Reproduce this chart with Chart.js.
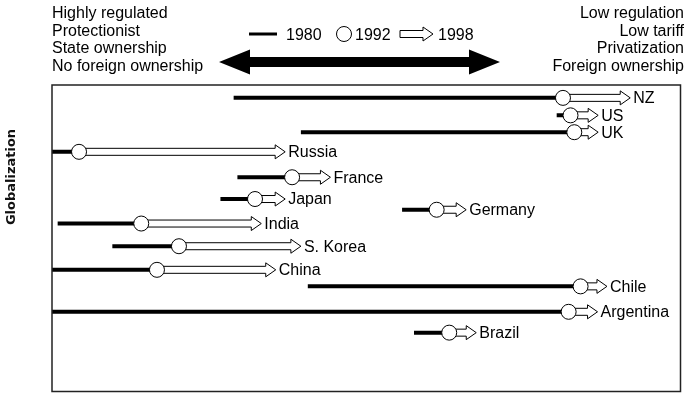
<!DOCTYPE html>
<html>
<head>
<meta charset="utf-8">
<script src="https://cdn.jsdelivr.net/npm/chart.js@4/dist/chart.umd.min.js"></script>
<style>
  body { margin: 0; background: #fff; }
  #wrap { width: 689px; height: 400px; }
</style>
</head>
<body>
<div id="wrap"><canvas id="myChart" width="689" height="400"></canvas></div>
<script>
// Data (x: 0 = most regulated .. 100 = least regulated, y: globalization index)
const countries = ['NZ', 'US', 'UK', 'Russia', 'France', 'Japan', 'Germany', 'India', 'S. Korea', 'China', 'Chile', 'Argentina', 'Brazil'];
const globalization = [95.8, 90.1, 84.6, 78.2, 69.9, 62.8, 59.3, 54.8, 47.4, 39.7, 34.3, 26.0, 19.2];
const val1980 = [28.9, 80.3, 39.6, 0, 29.5, 26.8, 55.7, 0.9, 9.6, 0, 40.7, 0, 57.6];
const val1992 = [81.3, 82.5, 83.1, 4.3, 38.2, 32.3, 61.2, 14.2, 20.2, 16.7, 84.1, 82.2, 63.2];
const val1998 = [92.0, 86.9, 86.9, 37.1, 44.3, 37.1, 65.9, 33.3, 39.6, 35.6, 88.3, 86.8, 67.5];

const leftText = ['Highly regulated', 'Protectionist', 'State ownership', 'No foreign ownership'];
const rightText = ['Low regulation', 'Low tariff', 'Privatization', 'Foreign ownership'];
const legendYears = ['1980', '1992', '1998'];

const FONT = '"Liberation Sans", Arial, Helvetica, sans-serif';

//Build line segments 1980 -> 1992, separated by gaps
const segs = [];
countries.forEach((c, i) => {
  segs.push({x: val1980[i], y: globalization[i]});
  segs.push({x: val1992[i], y: globalization[i]});
  segs.push({x: val1992[i], y: null});
});

//open arrow shape
function openArrow(ctx, x0, x1, y, shaftH, headH, headL) {
  const hx = Math.max(x0, x1 - headL);
  ctx.beginPath();
  ctx.moveTo(x0, y - shaftH);
  ctx.lineTo(hx, y - shaftH);
  ctx.lineTo(hx, y - headH);
  ctx.lineTo(x1, y);
  ctx.lineTo(hx, y + headH);
  ctx.lineTo(hx, y + shaftH);
  ctx.lineTo(x0, y + shaftH);
  ctx.closePath();
  ctx.fillStyle = '#fff';
  ctx.fill();
  ctx.lineWidth = 1;
  ctx.strokeStyle = '#000';
  ctx.stroke();
}

const decor = {
  id: 'decor',
  afterDatasetDraw(chart, args) {
    if (args.index !== 1) return;
    const ctx = chart.ctx;
    const xs = chart.scales.x, ys = chart.scales.y;
    ctx.save();
    countries.forEach((c, i) => {
      const y = ys.getPixelForValue(globalization[i]);
      openArrow(ctx, xs.getPixelForValue(val1992[i]), xs.getPixelForValue(val1998[i]), y, 3.5, 7, 10);
    });
    ctx.restore();
  },
  afterDraw(chart) {
    const ctx = chart.ctx;
    const a = chart.chartArea;
    const xs = chart.scales.x, ys = chart.scales.y;
    ctx.save();

    //country labels
    ctx.fillStyle = '#000';
    ctx.font = '16px ' + FONT;
    ctx.textBaseline = 'middle';
    ctx.textAlign = 'left';
    countries.forEach((c, i) => {
      ctx.fillText(c, xs.getPixelForValue(val1998[i]) + 3, ys.getPixelForValue(globalization[i]) + 1);
    });

    //frame
    ctx.strokeStyle = '#222';
    ctx.lineWidth = 1.5;
    ctx.strokeRect(a.left, a.top, a.right - a.left, a.bottom - a.top);

    //header texts
    ctx.textBaseline = 'alphabetic';
    leftText.forEach((t, i) => ctx.fillText(t, 52, 18 + i * 17.7));
    ctx.textAlign = 'right';
    rightText.forEach((t, i) => ctx.fillText(t, 684, 18 + i * 17.7));

    //legend
    ctx.textAlign = 'left';
    ctx.beginPath();
    ctx.moveTo(249, 34); ctx.lineTo(277, 34);
    ctx.lineWidth = 3; ctx.strokeStyle = '#000'; ctx.stroke();
    ctx.fillText(legendYears[0], 286, 40);
    ctx.beginPath();
    ctx.arc(344, 34, 7.5, 0, Math.PI * 2);
    ctx.fillStyle = '#fff'; ctx.fill();
    ctx.lineWidth = 1; ctx.stroke();
    ctx.fillStyle = '#000';
    ctx.fillText(legendYears[1], 355, 40);
    openArrow(ctx, 400, 433, 34, 3.5, 7, 10);
    ctx.fillStyle = '#000';
    ctx.fillText(legendYears[2], 438, 40);

    //big double arrow
    const yc = 62, l = 219, r = 500, hl = 31, hh = 12.5, sh = 5;
    ctx.beginPath();
    ctx.moveTo(l, yc);
    ctx.lineTo(l + hl, yc - hh);
    ctx.lineTo(l + hl, yc - sh);
    ctx.lineTo(r - hl, yc - sh);
    ctx.lineTo(r - hl, yc - hh);
    ctx.lineTo(r, yc);
    ctx.lineTo(r - hl, yc + hh);
    ctx.lineTo(r - hl, yc + sh);
    ctx.lineTo(l + hl, yc + sh);
    ctx.lineTo(l + hl, yc + hh);
    ctx.closePath();
    ctx.fillStyle = '#000';
    ctx.fill();

    //y title
    ctx.translate(12, 177);
    ctx.rotate(-Math.PI / 2);
    ctx.textAlign = 'center';
    ctx.textBaseline = 'middle';
    ctx.font = 'bold 13px "DejaVu Sans", sans-serif';
    ctx.fillStyle = '#111';
    ctx.fillText('Globalization', 0, 0);
    ctx.restore();
  }
};

let myChart = new Chart(document.getElementById('myChart').getContext('2d'), {
  type: 'scatter',
  data: {
    datasets: [{
      type: 'line',
      label: '1980',
      data: segs,
      borderColor: '#000',
      borderWidth: 4,
      pointRadius: 0,
      spanGaps: false,
      order: 3
    }, {
      label: '1998',
      data: countries.map((c, i) => ({x: val1998[i], y: globalization[i]})),
      pointRadius: 0,
      order: 2
    }, {
      label: '1992',
      data: countries.map((c, i) => ({x: val1992[i], y: globalization[i]})),
      pointRadius: 7.5,
      pointBackgroundColor: '#fff',
      pointBorderColor: '#000',
      pointBorderWidth: 1,
      order: 1
    }]
  },
  options: {
    responsive: false,
    animation: false,
    devicePixelRatio: 1,
    layout: { padding: { left: 52, top: 85, right: 3, bottom: 3 } },
    scales: {
      x: { type: 'linear', min: 0, max: 100, display: false },
      y: { type: 'linear', min: 0, max: 100, display: false }
    },
    plugins: {
      legend: { display: false },
      tooltip: { enabled: false }
    }
  },
  plugins: [decor]
});
</script>
</body>
</html>
